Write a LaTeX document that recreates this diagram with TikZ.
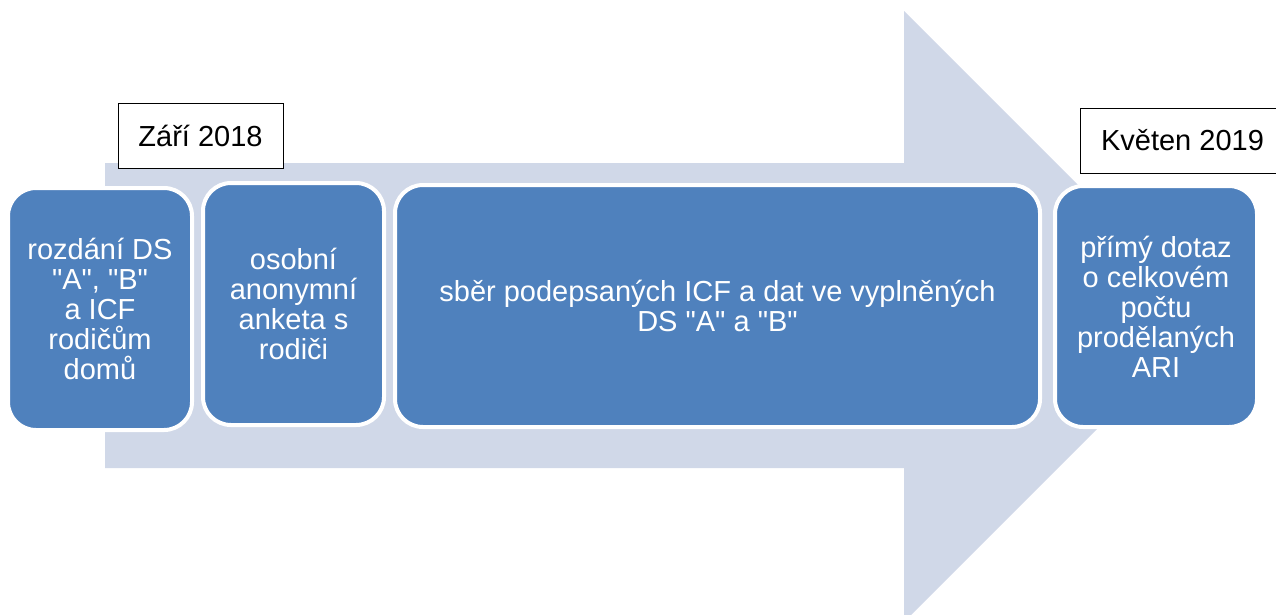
\documentclass[tikz,border=0pt]{standalone}
\usepackage{fontspec}
\setmainfont{Liberation Sans}
\definecolor{boxblue}{HTML}{4F81BD}
\definecolor{arrowgrey}{HTML}{D0D8E8}
\newcommand{\qq}{\textquotedbl}
\begin{document}
\begin{tikzpicture}[x=1pt,y=-1pt,
  stage/.style={draw=white, line width=4pt, fill=boxblue, rounded corners=28pt,
    text=white, align=center, font=\fontsize{29}{30}\selectfont, inner sep=0pt},
  datebox/.style={draw=black, line width=1pt, fill=white,
    font=\fontsize{29}{30}\selectfont, inner sep=0pt, minimum height=65pt}]
\useasboundingbox (0,0) rectangle (1276,614);
\clip (0,0) rectangle (1276,614);
\fill[arrowgrey] (105,163) -- (904,163) -- (904,11) -- (1209.5,316.5) -- (904,622) -- (904,468) -- (105,468) -- cycle;
\node[datebox, minimum width=165pt] (d1) at (200.5,135.5) {Září 2018};
\node[datebox, minimum width=205pt] (d2) at (1182.5,140.5) {Květen 2019};
\node[stage, minimum width=184pt, minimum height=242pt] (s1) at (100,309)
  {rozdání DS\\\qq A\qq, \qq B\qq\\a ICF\\rodičům\\domů};
\node[stage, minimum width=181pt, minimum height=242pt] (s2) at (293.5,304)
  {osobní\\anonymní\\anketa s\\rodiči};
\node[stage, minimum width=645pt, minimum height=242pt] (s3) at (717.5,306)
  {sběr podepsaných ICF a dat ve vyplněných\\DS \qq A\qq{} a \qq B\qq};
\node[stage, minimum width=202pt, minimum height=241pt] (s4) at (1156,306.5)
  {přímý dotaz\\o celkovém\\počtu\\prodělaných\\ARI};
\end{tikzpicture}
\end{document}
